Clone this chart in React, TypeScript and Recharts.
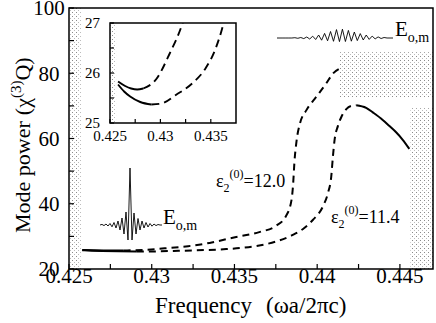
import React from 'react';
import { LineChart, Line, XAxis, YAxis, ReferenceArea } from 'recharts';

// epsilon = 12.0 branch
const freqA = [0.4258, 0.4265, 0.4271, 0.4277, 0.4283, 0.4296, 0.4309, 0.4322, 0.4335, 0.4349, 0.4365, 0.4375, 0.4381, 0.43845, 0.43855, 0.43862, 0.43876, 0.43896, 0.43935, 0.43995, 0.44055, 0.44095, 0.44136];
const powerA = [25.83, 25.74, 25.69, 25.67, 25.69, 25.88, 26.38, 27.0, 28.0, 29.6, 31.3, 33.2, 36.1, 41.2, 46.3, 52.4, 59.5, 64.6, 68.7, 72.8, 76.9, 79.9, 81.4];
const solidEndA = 4;

// epsilon = 11.4 branch
const freqB = [0.4258, 0.4264, 0.427, 0.428, 0.4291, 0.4301, 0.4316, 0.4332, 0.4345, 0.4355, 0.4365, 0.4375, 0.4385, 0.4392, 0.43975, 0.44035, 0.44065, 0.44085, 0.44095, 0.44105, 0.44125, 0.44146, 0.44176, 0.44206, 0.44236, 0.44296, 0.44336, 0.44396, 0.44437, 0.44477, 0.44517, 0.44557];
const powerB = [25.77, 25.63, 25.53, 25.42, 25.37, 25.39, 25.57, 25.8, 26.1, 26.5, 27.2, 28.4, 30.4, 32.5, 35.1, 39.2, 43.3, 48.3, 54.4, 59.5, 63.8, 66.6, 69.0, 70.0, 70.2, 69.4, 68.0, 65.7, 63.8, 61.9, 59.6, 56.8];
const solidEndB = 4;
const solidStartB = 24;

// mode profiles (arbitrary units)
const modeExtended = [0, 0, 0, 0, 0, 0, 0.3, -0.3, 0.5, -0.6, 1.0, -1.0, 1.8, -1.5, 3.0, -2.2, 4.6, -2.8, 6.5, -3.3, 8.4, -3.6, 8.8, -3.5, 7.6, -3.2, 6.0, -2.6, 4.4, -2.0, 3.0, -1.4, 1.9, -0.9, 1.1, -0.5, 0.5, 0, 0, 0];
const modeLocalized = [0, 0.6, -0.6, 1, -1, 1.5, -1.8, 2.5, -3, 4, -5, 7, -9, 13, -15, 57, -15, 12, -9, 6.5, -5, 4, -3, 2.5, -2, 1.5, -1.2, 1, -0.6, 0.5, 0, 0];

// shaded regions outside the guided band
const bandsX1 = [0.425, 0.44136, 0.44563];
const bandsX2 = [0.4257, 0.447, 0.447];
const bandsY1 = [20, 72.7, 20];
const bandsY2 = [100, 86.4, 69.3];

const xDomain = [0.425, 0.447];
const yDomain = [20, 100];
const xTicks = [0.425, 0.4275, 0.43, 0.4325, 0.435, 0.4375, 0.44, 0.4425, 0.445];
const xMajor = [0.425, 0.43, 0.435, 0.44, 0.445];
const yTicks = [20, 30, 40, 50, 60, 70, 80, 90, 100];
const yMajor = [20, 40, 60, 80, 100];

const insetXDomain = [0.425, 0.4375];
const insetYDomain = [25, 27];
const insetXTicks = [0.425, 0.4275, 0.43, 0.4325, 0.435];
const insetXMajor = [0.425, 0.43, 0.435];
const insetYTicks = [25, 25.5, 26, 26.5, 27];
const insetYMajor = [25, 26, 27];

const serif = "'Liberation Serif', 'Times New Roman', Times, 'DejaVu Serif', serif";
const textStyle = { fontFamily: serif };

const toRows = (f: number[], p: number[], from: number, to: number) =>
  f.slice(from, to + 1).map((v, i) => ({ f: v, p: p[from + i] }));

const aSolid = toRows(freqA, powerA, 0, solidEndA);
const aDash = toRows(freqA, powerA, solidEndA, freqA.length - 1);
const bSolid = toRows(freqB, powerB, 0, solidEndB);
const bDash = toRows(freqB, powerB, solidEndB, solidStartB);
const bTail = toRows(freqB, powerB, solidStartB, freqB.length - 1);

const bands = bandsX1.map((x1, i) => ({ x1, x2: bandsX2[i], y1: bandsY1[i], y2: bandsY2[i] }));

const isMajor = (v: number, list: number[]) => list.some((m) => Math.abs(m - v) < 1e-9);

const bottomTick = (major: number[], len: number, size: number, dy: number) => (props: any) => {
  const { x, y, payload } = props;
  return (
    <g>
      <line x1={x} x2={x} y1={y} y2={y - len} stroke="#000" strokeWidth={1.2} />
      {isMajor(payload.value, major) && (
        <text x={x} y={y + dy} textAnchor="middle" fontSize={size} style={textStyle} fill="#000">
          {String(payload.value)}
        </text>
      )}
    </g>
  );
};

const topTick = (len: number) => (props: any) => {
  const { x, y } = props;
  return <line x1={x} x2={x} y1={y} y2={y + len} stroke="#000" strokeWidth={1.2} />;
};

const leftTick = (major: number[], len: number, size: number, dx: number, anchor: string) => (props: any) => {
  const { x, y, payload } = props;
  return (
    <g>
      <line x1={x} x2={x + len} y1={y} y2={y} stroke="#000" strokeWidth={1.2} />
      {isMajor(payload.value, major) && (
        <text x={x - dx} y={y} dy="0.35em" textAnchor={anchor} fontSize={size} style={textStyle} fill="#000">
          {String(payload.value)}
        </text>
      )}
    </g>
  );
};

function Curves({ dash, width }: { dash: string; width: number }) {
  return (
    <>
      <Line data={aSolid} dataKey="p" type="monotone" stroke="#000" strokeWidth={width} dot={false} activeDot={false} isAnimationActive={false} />
      <Line data={aDash} dataKey="p" type="monotone" stroke="#000" strokeWidth={width} strokeDasharray={dash} dot={false} activeDot={false} isAnimationActive={false} />
      <Line data={bSolid} dataKey="p" type="monotone" stroke="#000" strokeWidth={width} dot={false} activeDot={false} isAnimationActive={false} />
      <Line data={bDash} dataKey="p" type="monotone" stroke="#000" strokeWidth={width} strokeDasharray={dash} dot={false} activeDot={false} isAnimationActive={false} />
      <Line data={bTail} dataKey="p" type="monotone" stroke="#000" strokeWidth={width} dot={false} activeDot={false} isAnimationActive={false} />
    </>
  );
}

function ModeProfile({ values, width, height, domain }: { values: number[]; width: number; height: number; domain: number[] }) {
  const rows = values.map((v, i) => ({ i, v }));
  return (
    <LineChart width={width} height={height} data={rows} margin={{ top: 0, right: 0, bottom: 0, left: 0 }}>
      <XAxis dataKey="i" type="number" domain={[0, values.length - 1]} hide />
      <YAxis type="number" domain={domain} hide />
      <Line dataKey="v" type="linear" stroke="#000" strokeWidth={0.9} dot={false} activeDot={false} isAnimationActive={false} />
    </LineChart>
  );
}

export default function App() {
  return (
    <div style={{ position: 'absolute', left: 0, top: 0, width: 436, height: 323, background: '#fff' }}>
      <svg width={0} height={0} style={{ position: 'absolute' }}>
        <defs>
          <pattern id="stipple" width={4} height={4} patternUnits="userSpaceOnUse">
            <rect x={0} y={0} width={1} height={1} fill="#8a8a8a" />
            <rect x={2} y={2} width={1} height={1} fill="#bbb" />
          </pattern>
        </defs>
      </svg>

      <div style={{ position: 'absolute', left: 0, top: 0 }}>
        <LineChart width={436} height={323} margin={{ top: 8, right: 3, bottom: 0, left: 0 }}>
          <XAxis
            dataKey="f"
            type="number"
            domain={xDomain}
            ticks={xTicks}
            interval={0}
            height={54}
            axisLine={false}
            tickLine={false}
            tickSize={0}
            tickMargin={0}
            allowDataOverflow
            tick={bottomTick(xMajor, 5, 21, 14)}
          />
          <XAxis
            xAxisId="top"
            orientation="top"
            dataKey="f"
            type="number"
            domain={xDomain}
            ticks={xTicks}
            interval={0}
            height={0}
            axisLine={false}
            tickLine={false}
            tickSize={0}
            tickMargin={0}
            allowDataOverflow
            tick={topTick(5)}
          />
          <YAxis
            type="number"
            domain={yDomain}
            ticks={yTicks}
            interval={0}
            width={69}
            axisLine={false}
            tickLine={false}
            tickSize={0}
            tickMargin={0}
            allowDataOverflow
            tick={leftTick(yMajor, 5, 21, 20, 'middle')}
          />
          {bands.map((b, i) => (
            <ReferenceArea key={i} x1={b.x1} x2={b.x2} y1={b.y1} y2={b.y2} fill="url(#stipple)" fillOpacity={1} stroke="none" ifOverflow="hidden" />
          ))}
          {Curves({ dash: '7 5', width: 2 })}
          <ReferenceArea x1={xDomain[0]} x2={xDomain[1]} y1={yDomain[0]} y2={yDomain[1]} fill="none" stroke="#000" strokeWidth={1.5} />
        </LineChart>
      </div>

      <div style={{ position: 'absolute', left: 80, top: 15 }}>
        <LineChart width={160} height={140} margin={{ top: 8, right: 4, bottom: 10, left: 0 }}>
          <XAxis
            dataKey="f"
            type="number"
            domain={insetXDomain}
            ticks={insetXTicks}
            interval={0}
            height={22}
            axisLine={false}
            tickLine={false}
            tickSize={0}
            tickMargin={0}
            allowDataOverflow
            tick={bottomTick(insetXMajor, 4, 15, 18)}
          />
          <YAxis
            type="number"
            domain={insetYDomain}
            ticks={insetYTicks}
            interval={0}
            width={30}
            axisLine={false}
            tickLine={false}
            tickSize={0}
            tickMargin={0}
            allowDataOverflow
            tick={leftTick(insetYMajor, 4, 15, 10, 'end')}
          />
          <ReferenceArea x1={0.425} x2={0.4256} y1={25} y2={27} fill="url(#stipple)" fillOpacity={1} stroke="none" ifOverflow="hidden" />
          {Curves({ dash: '8 5', width: 1.9 })}
          <ReferenceArea x1={insetXDomain[0]} x2={insetXDomain[1]} y1={insetYDomain[0]} y2={insetYDomain[1]} fill="none" stroke="#000" strokeWidth={1.5} />
        </LineChart>
      </div>

      <div style={{ position: 'absolute', left: 277, top: 22.7 }}>
        <ModeProfile values={modeExtended} width={116} height={20} domain={[-5, 15]} />
      </div>
      <div style={{ position: 'absolute', left: 100, top: 165 }}>
        <ModeProfile values={modeLocalized} width={62} height={80} domain={[-20, 60]} />
      </div>

      <svg width={436} height={323} style={{ position: 'absolute', left: 0, top: 0, pointerEvents: 'none', fontFamily: serif }} fill="#000">
        <text x={216} y={187} fontSize={18} style={textStyle}>
          ε<tspan dy={5} fontSize={12}>2</tspan>
          <tspan dy={-14} fontSize={12}>(0)</tspan>
          <tspan dy={9}>=12.0</tspan>
        </text>
        <text x={331} y={223} fontSize={18} style={textStyle}>
          ε<tspan dy={5} fontSize={12}>2</tspan>
          <tspan dy={-14} fontSize={12}>(0)</tspan>
          <tspan dy={9}>=11.4</tspan>
        </text>
        <text x={395} y={36} fontSize={21} style={textStyle}>
          E<tspan dy={6} fontSize={14}>o,m</tspan>
        </text>
        <text x={163} y={224} fontSize={21} style={textStyle}>
          E<tspan dy={6} fontSize={14}>o,m</tspan>
        </text>
        <text x={155} y={313} fontSize={23} style={textStyle}>
          Frequency<tspan x={266}>(ωa/2πc)</tspan>
        </text>
        <text transform="translate(30,233) rotate(-90)" fontSize={22} style={textStyle}>
          Mode power<tspan dx={6}>(χ</tspan>
          <tspan dy={-9} fontSize={15}>(3)</tspan>
          <tspan dy={9}>Q)</tspan>
        </text>
      </svg>
    </div>
  );
}
